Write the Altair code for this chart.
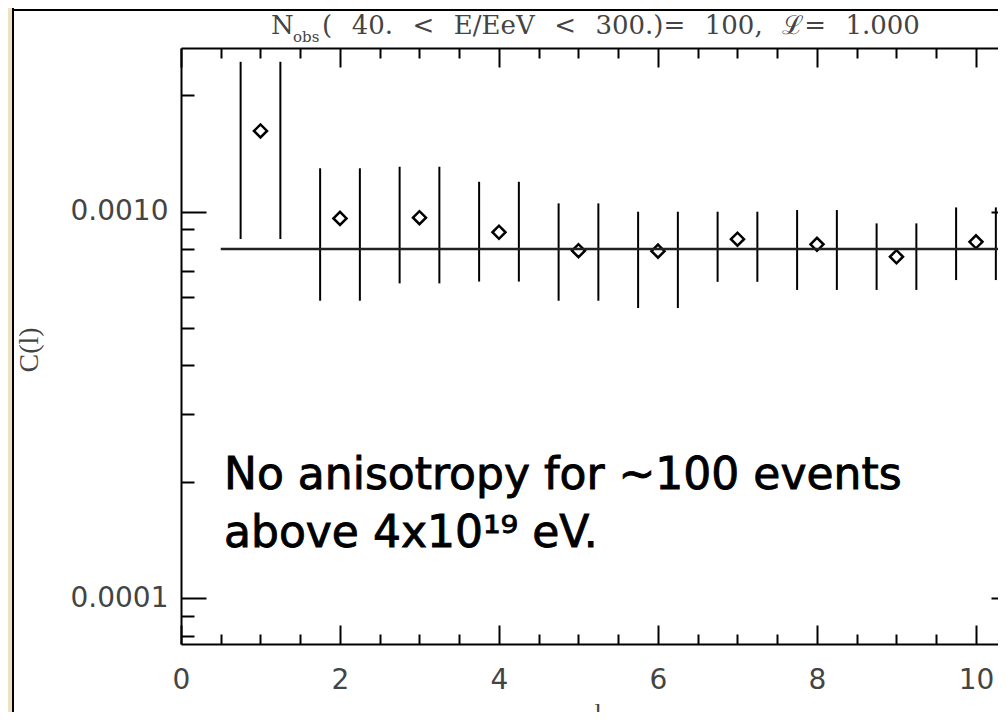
import altair as alt
import pandas as pd

# ---------------- values ----------------
ELL = [1, 2, 3, 4, 5, 6, 7, 8, 9, 10]
C_ELL = [0.001616, 0.000960, 0.000964, 0.000884, 0.000792,
         0.000790, 0.000848, 0.000823, 0.000764, 0.000835]
C_HI = [0.002440, 0.001294, 0.001306, 0.001194, 0.001050,
        0.000999, 0.000999, 0.001009, 0.000932, 0.001025]
C_LO = [0.000849, 0.000588, 0.000652, 0.000659, 0.000588,
        0.000563, 0.000658, 0.000627, 0.000627, 0.000665]
BAR_OFFSET = 0.25          # error bars drawn at l-0.25 and l+0.25
ISO_LEVEL = [0.0008]       # isotropic expectation line
ISO_FROM = [0.5]
ISO_TO = [10.5]

X_MAJOR = [0, 2, 4, 6, 8, 10]
X_TICKS = [0, 0.5, 1, 1.5, 2, 2.5, 3, 3.5, 4, 4.5, 5, 5.5, 6, 6.5, 7,
           7.5, 8, 8.5, 9, 9.5, 10]
Y_MAJOR = [0.0001, 0.001]
Y_TICKS = [0.00008, 0.00009, 0.0001, 0.0002, 0.0003, 0.0004, 0.0005,
           0.0006, 0.0007, 0.0008, 0.0009, 0.001, 0.002]

TITLE_MAIN = "N"
TITLE_SUB = "obs"
TITLE_REST = "( 40. < E/EeV < 300.)= 100, ℒ= 1.000"
X_TITLE = "l"
Y_TITLE = "C(l)"
NOTE_LINES = ["No anisotropy for ~100 events", "above 4x10¹⁹ eV."]

# ---------------- layout ----------------
W, H = 817, 596
X_DOMAIN = [0, 10.277]
Y_DOMAIN = [0.0000761, 0.002649]

xs = alt.Scale(domain=X_DOMAIN, nice=False, zero=False)
ys = alt.Scale(type="log", domain=Y_DOMAIN, nice=False)

LABEL_STYLE = dict(labelFont="DejaVu Sans", labelFontSize=28, labelColor="#444",
                   labelFlush=False, labelOverlap=False, grid=False, title="")
TICK_STYLE = dict(tickColor="black", tickWidth=2, grid=False, labels=False, title="")

x_major_test = "datum.value % 2 === 0"
y_major_test = "datum.value === 0.001 || datum.value === 0.0001"

ax_x_labels = alt.Axis(orient="bottom", values=X_MAJOR, format="d", ticks=False,
                       tickSize=0, labelPadding=22, domain=True,
                       domainColor="black", domainWidth=2, **LABEL_STYLE)
ax_x_bottom_ticks = alt.Axis(orient="top", offset=-H, values=X_TICKS, domain=False,
                             tickSize={"condition": {"test": x_major_test, "value": 19}, "value": 10},
                             **TICK_STYLE)
ax_x_top_ticks = alt.Axis(orient="bottom", offset=-H, values=X_TICKS,
                          domain=True, domainColor="black", domainWidth=2,
                          tickSize={"condition": {"test": x_major_test, "value": 19}, "value": 10},
                          **TICK_STYLE)

ay_labels = alt.Axis(orient="left", values=Y_MAJOR, format=".4f", ticks=False,
                     tickSize=0, labelPadding=13, domain=True,
                     domainColor="black", domainWidth=2, **LABEL_STYLE)
ay_left_ticks = alt.Axis(orient="right", offset=-W, values=Y_TICKS, domain=False,
                         tickSize={"condition": {"test": y_major_test, "value": 25}, "value": 13},
                         **TICK_STYLE)
ay_right_ticks = alt.Axis(orient="left", offset=-W, values=Y_MAJOR, domain=False,
                          tickSize=7, **TICK_STYLE)

df = pd.DataFrame({"l": ELL, "c": C_ELL, "hi": C_HI, "lo": C_LO})
iso_df = pd.DataFrame({"l0": ISO_FROM, "l1": ISO_TO, "c": ISO_LEVEL})
one = pd.DataFrame({"k": [0]})

base = alt.Chart(df)

bars_left = base.transform_calculate(xl=f"datum.l - {BAR_OFFSET}").mark_rule(
    color="black", strokeWidth=2).encode(
    x=alt.X("xl:Q", scale=xs, axis=ax_x_labels),
    y=alt.Y("hi:Q", scale=ys, axis=ay_labels),
    y2="lo:Q")

bars_right = base.transform_calculate(xr=f"datum.l + {BAR_OFFSET}").mark_rule(
    color="black", strokeWidth=2).encode(
    x=alt.X("xr:Q", scale=xs, axis=ax_x_bottom_ticks),
    y=alt.Y("hi:Q", scale=ys, axis=ay_left_ticks),
    y2="lo:Q")

diamonds = base.mark_point(shape="diamond", filled=False, color="black",
                           strokeWidth=2.5, size=170, opacity=1).encode(
    x=alt.X("l:Q", scale=xs, axis=ax_x_top_ticks),
    y=alt.Y("c:Q", scale=ys, axis=ay_right_ticks))

iso = alt.Chart(iso_df).mark_rule(color="#222", strokeWidth=2.5, clip=True).encode(
    x=alt.X("l0:Q", scale=xs, axis=None),
    x2="l1:Q",
    y=alt.Y("c:Q", scale=ys, axis=None))

SERIF = "DejaVu Serif"
title_n = alt.Chart(one).mark_text(text=TITLE_MAIN, font=SERIF, fontSize=26, color="#444",
                                   align="left", baseline="alphabetic").encode(
    x=alt.value(90), y=alt.value(-14))
title_sub = alt.Chart(one).mark_text(text=TITLE_SUB, font=SERIF, fontSize=15, color="#444",
                                     align="left", baseline="alphabetic").encode(
    x=alt.value(112), y=alt.value(-6))
title_rest = alt.Chart(one).mark_text(
    text=TITLE_REST.replace(" ", "\u2002\u2005"), font=SERIF, fontSize=26, color="#444",
    align="left", baseline="alphabetic").encode(
    x=alt.value(141), y=alt.value(-14))

x_title = alt.Chart(one).mark_text(text=X_TITLE, font="Liberation Serif", fontSize=26,
                                   color="#444", align="center", baseline="top").encode(
    x=alt.value(417), y=alt.value(652))
y_title = alt.Chart(one).mark_text(text=Y_TITLE, font="Liberation Serif", fontSize=28,
                                   angle=270, color="#444", align="center",
                                   baseline="middle").encode(
    x=alt.value(-151), y=alt.value(302))

note = alt.Chart(one).mark_text(text=NOTE_LINES, font="DejaVu Sans", fontSize=44,
                                color="black", stroke="black", strokeWidth=0.9,
                                align="left", baseline="alphabetic",
                                lineHeight=58).encode(
    x=alt.value(43), y=alt.value(441))

# slide decoration around the picture
beige = alt.Chart(one).mark_rect(color="#efe2c2").encode(
    x=alt.value(-173), x2=alt.value(-168), y=alt.value(-40), y2=alt.value(664))
vline = alt.Chart(one).mark_rule(color="black", strokeWidth=2).encode(
    x=alt.value(-168), y=alt.value(-40), y2=alt.value(664))
hline = alt.Chart(one).mark_rule(color="black", strokeWidth=2).encode(
    x=alt.value(-168), x2=alt.value(W), y=alt.value(-38))

chart = alt.layer(
    bars_left, bars_right, diamonds, iso, title_n, title_sub, title_rest,
    x_title, y_title, note, beige, vline, hline
).resolve_axis(x="independent", y="independent").properties(
    width=W, height=H,
    autosize=alt.AutoSizeParams(type="none"),
    padding={"left": 173, "top": 40, "right": 0, "bottom": 68},
    background="white",
).configure_view(strokeWidth=0)

chart.save("out.html", embed_options={"renderer": "svg", "actions": False})
